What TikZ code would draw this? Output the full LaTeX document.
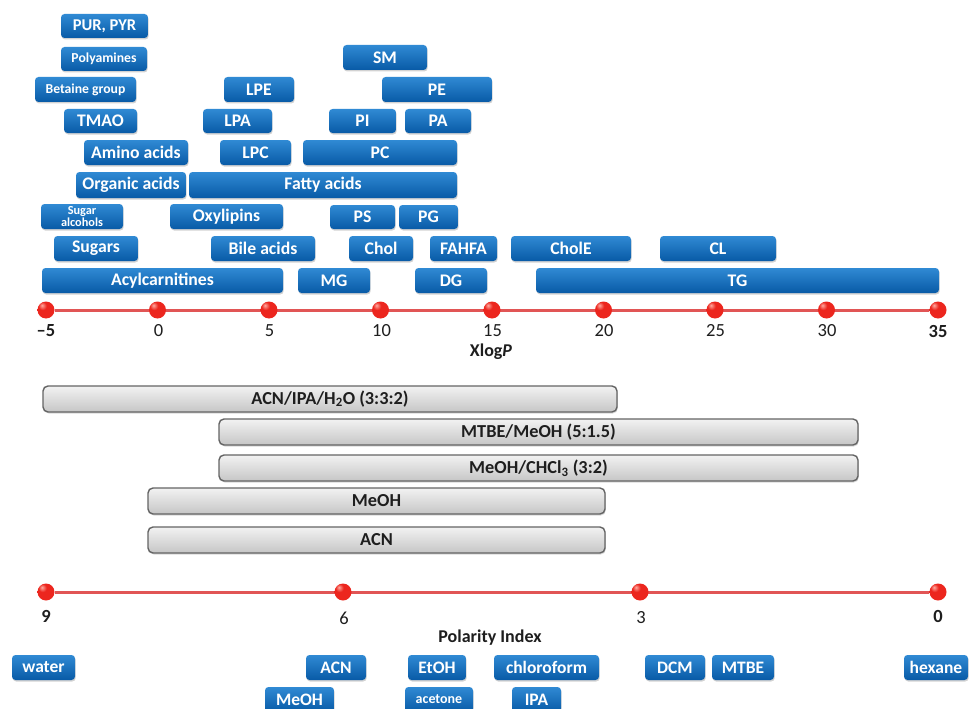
\documentclass[tikz,border=0pt]{standalone}
\usepackage{fontspec}
\setmainfont{Carlito}
\usetikzlibrary{shadows,backgrounds}
\definecolor{bluetop}{RGB}{48,138,212}
\definecolor{bluebot}{RGB}{8,90,166}
\definecolor{graytop}{RGB}{242,242,242}
\definecolor{graybot}{RGB}{198,198,198}
\definecolor{grayedge}{RGB}{100,100,100}
\definecolor{axisred}{RGB}{225,85,85}
\definecolor{dotred}{RGB}{236,38,30}
\definecolor{dothi}{RGB}{255,170,160}
\definecolor{dotdark}{RGB}{170,20,15}
\definecolor{txt}{RGB}{30,30,30}
\pgfdeclareradialshading{redball}{\pgfpoint{-12bp}{14bp}}{color(0bp)=(dothi); color(12bp)=(dotred); color(45bp)=(dotred); color(65bp)=(dotdark); color(90bp)=(dotdark)}
\newcommand{\fs}[1]{\fontsize{#1}{#1}\selectfont}
\newcommand{\drawbx}[7]{\node[#1, minimum width={(#4)-(#3)}, minimum height={(#6)-(#5)}] (#2) at ({((#3)+(#4))/2},{((#5)+(#6))/2}) {#7};}
\tikzset{
  bluebox/.style={rounded corners=3.5pt, top color=bluetop, bottom color=bluebot, draw=none,
    text=white, font=\fs{17.7}\bfseries, inner sep=0pt, align=center,
    drop shadow={shadow xshift=0.7pt, shadow yshift=-1.5pt, opacity=0.35}},
  smallblue/.style={bluebox, font=\fs{13.7}\bfseries},
  tinyblue/.style={bluebox, font=\fontsize{12.3}{12.8}\selectfont\bfseries},
  solvblue/.style={bluebox, font=\fs{17.5}\bfseries},
  graybox/.style={rounded corners=5pt, top color=graytop, bottom color=graybot, draw=grayedge,
    line width=1.4pt, text=txt, font=\fs{18.3}\bfseries, inner sep=0pt,
    drop shadow={shadow xshift=0.8pt, shadow yshift=-1.5pt, opacity=0.3}},
  dot/.style={circle, inner sep=0pt, minimum size=17pt, shading=redball},
  axisline/.style={axisred, line width=3pt},
  ticklab/.style={text=txt, font=\fs{18.5}, inner sep=0pt},
  tickbold/.style={ticklab, font=\fs{18.5}\bfseries},
  axtitle/.style={text=txt, font=\fs{18}\bfseries, inner sep=0pt}
}
\begin{document}
\begin{tikzpicture}[x=1pt, y=-1pt]
\begin{scope}[on background layer]
  \fill[white] (0,0) rectangle (970,709);
\end{scope}
\useasboundingbox (0,0) rectangle (970,709);
% ---- lipid classes
\drawbx{bluebox,font=\fs{16.5}\bfseries}{pur}{61}{148}{14}{38}{PUR, PYR}
\drawbx{smallblue}{poly}{61}{147}{47}{71}{Polyamines}
\drawbx{smallblue}{betaine}{35}{136}{77}{102}{Betaine group}
\drawbx{bluebox}{tmao}{64}{137}{109}{133}{TMAO}
\drawbx{bluebox}{amino}{84}{188}{140}{165}{Amino acids}
\drawbx{bluebox}{organic}{76}{186}{172}{198}{Organic acids}
\drawbx{bluebox}{fatty}{189}{457}{172}{198}{Fatty acids}
\drawbx{bluebox}{lpe}{224}{294}{77}{102}{LPE}
\drawbx{bluebox}{lpa}{203}{272}{109}{133}{LPA}
\drawbx{bluebox}{lpc}{220}{291}{140}{165}{LPC}
\drawbx{bluebox}{pc}{303}{457}{140}{165}{PC}
\drawbx{bluebox}{sm}{343}{427}{45}{70}{SM}
\drawbx{bluebox}{pe}{382}{492}{77}{102}{PE}
\drawbx{bluebox}{pi}{329}{396}{109}{133}{PI}
\drawbx{bluebox}{pa}{405}{471}{109}{133}{PA}
\drawbx{tinyblue}{sugalc}{41}{123}{204}{229}{Sugar\\alcohols}
\drawbx{bluebox}{oxy}{170}{283}{204}{229}{Oxylipins}
\drawbx{bluebox}{ps}{330}{395}{205}{229}{PS}
\drawbx{bluebox}{pg}{399}{458}{205}{229}{PG}
\drawbx{bluebox}{sugars}{54}{138}{236}{261}{Sugars}
\drawbx{bluebox}{bile}{211}{315}{236}{261}{Bile acids}
\drawbx{bluebox}{chol}{349}{413}{236}{261}{Chol}
\drawbx{bluebox}{fahfa}{430}{497}{236}{261}{FAHFA}
\drawbx{bluebox}{chole}{511}{631}{236}{261}{CholE}
\drawbx{bluebox}{cl}{660}{776}{236}{261}{CL}
\drawbx{bluebox}{acyl}{42}{283}{268}{293}{Acylcarnitines}
\drawbx{bluebox}{mg}{298}{370}{268}{293}{MG}
\drawbx{bluebox}{dg}{415}{487}{268}{293}{DG}
\drawbx{bluebox}{tg}{536}{939}{268}{293}{TG}
% ---- XlogP axis
\node[dot] (xa) at (46,310) {};
\node[dot] (xb) at (157.5,310) {};
\node[dot] (xc) at (269,310) {};
\node[dot] (xd) at (380.5,310) {};
\node[dot] (xe) at (492,310) {};
\node[dot] (xf) at (603.5,310) {};
\node[dot] (xg) at (715,310) {};
\node[dot] (xh) at (826.5,310) {};
\node[dot] (xi) at (938,310) {};
\begin{scope}[on background layer]
  \draw[axisline] (xa) -- (xi);
\end{scope}
\node[tickbold] (la) at (46,331) {–5};
\node[ticklab] (lb) at (158.5,331) {0};
\node[ticklab] (lc) at (269.5,331) {5};
\node[ticklab] (ld) at (381.5,331) {10};
\node[ticklab] (le) at (492.5,331) {15};
\node[ticklab] (lf) at (604,331) {20};
\node[ticklab] (lg) at (715.5,331) {25};
\node[ticklab] (lh) at (827,331) {30};
\node[tickbold] (li) at (938,331) {35};
\node[axtitle] (xlogp) at (491,352) {Xlog\textit{P}};
% ---- solvent systems
\drawbx{graybox}{g1}{43}{617}{386}{412}{ACN/IPA/H\textsubscript{2}O (3:3:2)}
\drawbx{graybox}{g2}{219}{858}{419}{445}{MTBE/MeOH (5:1.5)}
\drawbx{graybox}{g3}{219}{858}{455}{481}{MeOH/CHCl\textsubscript{3} (3:2)}
\drawbx{graybox}{g4}{148}{605}{488}{514}{MeOH}
\drawbx{graybox}{g5}{148}{605}{527}{553}{ACN}
% ---- polarity axis
\node[dot] (pa9) at (46,592) {};
\node[dot] (pa6) at (343,592) {};
\node[dot] (pa3) at (640,592) {};
\node[dot] (pa0) at (938,592) {};
\begin{scope}[on background layer]
  \draw[axisline] (pa9) -- (pa0);
\end{scope}
\node[tickbold] (pl9) at (46,616) {9};
\node[ticklab] (pl6) at (344,618) {6};
\node[ticklab] (pl3) at (641,618) {3};
\node[tickbold] (pl0) at (938,616) {0};
\node[axtitle] (polidx) at (490,638) {Polarity Index};
% ---- solvents
\drawbx{solvblue}{water}{12}{75}{655}{680}{water}
\drawbx{solvblue}{acn}{306}{366}{655}{680}{ACN}
\drawbx{solvblue}{etoh}{408}{466}{655}{680}{EtOH}
\drawbx{solvblue}{chloro}{494}{599}{655}{680}{chloroform}
\drawbx{solvblue}{dcm}{645}{705}{655}{680}{DCM}
\drawbx{solvblue}{mtbe}{712}{774}{655}{680}{MTBE}
\drawbx{solvblue}{hexane}{904}{968}{655}{680}{hexane}
\drawbx{solvblue}{meoh}{265}{334}{687}{712}{MeOH}
\drawbx{solvblue,font=\fs{14}\bfseries}{acetone}{405}{473}{687}{712}{acetone}
\drawbx{solvblue}{ipa}{512}{561}{687}{712}{IPA}
\end{tikzpicture}
\end{document}
